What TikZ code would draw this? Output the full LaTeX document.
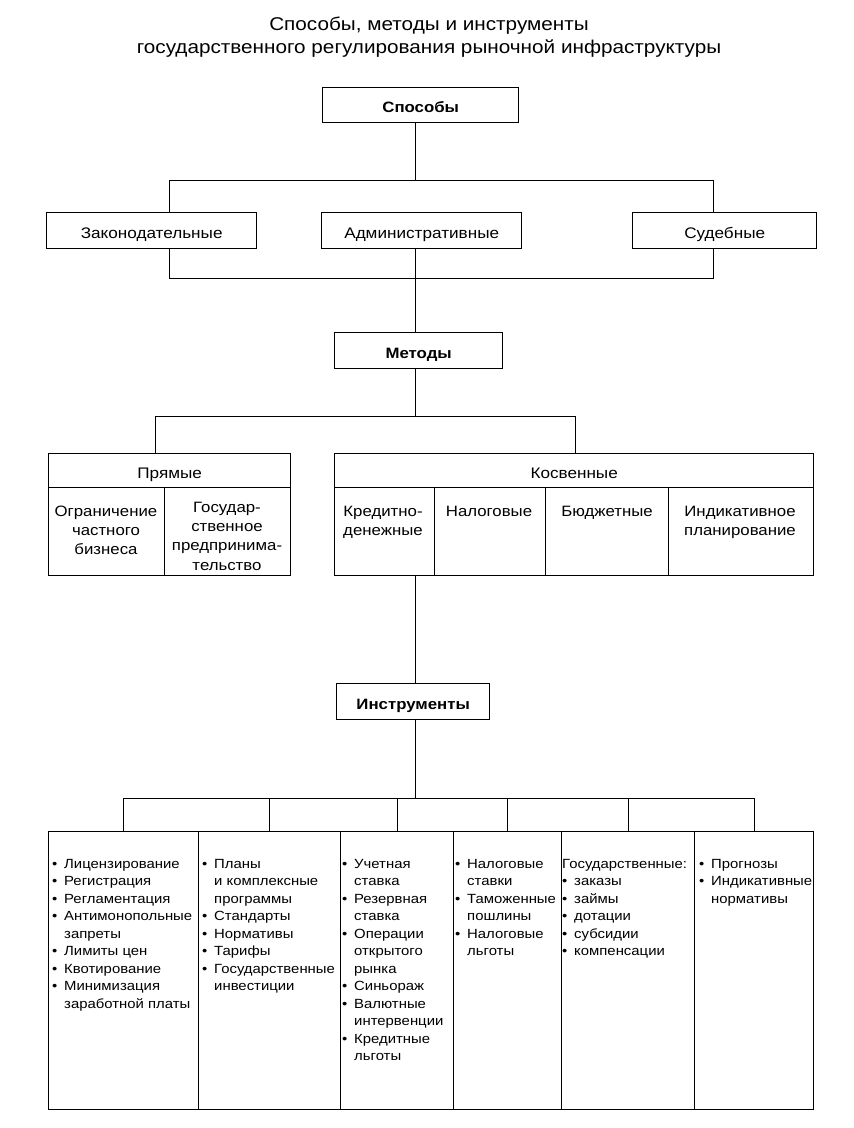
\documentclass[tikz,border=0pt]{standalone}
\usepackage{fontspec}
\setmainfont{Liberation Sans}[FakeStretch=1.12]
\newcommand{\myfs}[2]{\fontsize{#1}{#2}\selectfont}
\newcommand{\mybul}{\makebox[12pt][l]{•}}
\newcommand{\myind}{\hspace*{12pt}}
\newcommand{\mystrut}{\rule{0pt}{10pt}}
\newcommand{\mystrutb}{\rule{0pt}{11pt}}
\begin{document}
\begin{tikzpicture}[x=1pt,y=-1pt,
  box/.style={draw, line width=1.4pt, inner sep=0pt, anchor=north west, text height=15pt, text depth=0pt},
  conn/.style={line width=0.9pt},
  ttl/.style={anchor=base, inner sep=0pt, font=\myfs{18.5}{22}},
  hdr/.style={box, font=\bfseries\myfs{15}{18}},
  lvl/.style={box, font=\myfs{15.3}{18}},
  cell/.style={anchor=north, align=center, inner sep=0pt, font=\myfs{15}{19.3}},
  coltext/.style={anchor=north west, align=left, inner sep=0pt, font=\myfs{13.3}{17.5}}
]
\fill[white] (0,0) rectangle (854,1128);
\useasboundingbox (0,0) rectangle (854,1128);

% title
\node[ttl] (t1) at (429,30) {Способы, методы и инструменты};
\node[ttl] (t2) at (429,53) {государственного регулирования рыночной инфраструктуры};

% Способы
\node[hdr, minimum width=196pt, minimum height=35pt] (sp) at (322,87) {Способы};
\node[lvl, minimum width=210pt, minimum height=36pt] (zak) at (46,212) {Законодательные};
\node[lvl, minimum width=200pt, minimum height=36pt] (adm) at (321,212) {Административные};
\node[lvl, minimum width=184pt, minimum height=36pt] (sud) at (632,212) {Судебные};

\coordinate (ja) at (415,180);
\coordinate (a1) at (169,180);
\coordinate (a2) at (713,180);
\draw[conn] (sp.south -| ja) -- (ja);
\draw[conn] (zak.north -| a1) -- (a1) -- (a2) -- (sud.north -| a2);

% Методы
\node[hdr, minimum width=168pt, minimum height=36pt] (met) at (334,332) {Методы};
\coordinate (b1) at (169,278);
\coordinate (b2) at (713,278);
\draw[conn] (zak.south -| b1) -- (b1) -- (b2) -- (sud.south -| b2);
\draw[conn] (adm.south -| ja) -- (met.north -| ja);

% Прямые / Косвенные
\node[lvl, minimum width=242pt, minimum height=34pt] (pr) at (48,453) {Прямые};
\node[box, minimum width=116pt, minimum height=88pt] (pr1) at (48,487) {};
\node[box, minimum width=126pt, minimum height=88pt] (pr2) at (164,487) {};
\node[lvl, minimum width=479pt, minimum height=34pt] (kos) at (334,453) {Косвенные};
\node[box, minimum width=100pt, minimum height=88pt] (k1) at (334,487) {};
\node[box, minimum width=111pt, minimum height=88pt] (k2) at (434,487) {};
\node[box, minimum width=123pt, minimum height=88pt] (k3) at (545,487) {};
\node[box, minimum width=145pt, minimum height=88pt] (k4) at (668,487) {};

\node[cell] (pr1t) at (106,505) {\mystrutb Ограничение\\частного\\бизнеса};
\node[cell] (pr2t) at (227,501) {\mystrutb Государ-\\ственное\\предпринима-\\тельство};
\node[cell] (k1t) at (383,505) {\mystrutb Кредитно-\\денежные};
\node[cell] (k2t) at (489,505) {\mystrutb Налоговые};
\node[cell] (k3t) at (607,505) {\mystrutb Бюджетные};
\node[cell] (k4t) at (740,505) {\mystrutb Индикативное\\планирование};

\coordinate (jm) at (415,416);
\coordinate (c1) at (155,416);
\coordinate (c2) at (575,416);
\draw[conn] (met.south -| jm) -- (jm);
\draw[conn] (pr.north -| c1) -- (c1) -- (c2) -- (kos.north -| c2);

% Инструменты
\node[hdr, minimum width=153pt, minimum height=36pt] (ins) at (336,683) {Инструменты};
\draw[conn] (k2.south -| ja) -- (ins.north -| ja);

% columns
\node[box, minimum width=150pt, minimum height=278pt] (col1) at (48,831) {};
\node[box, minimum width=142pt, minimum height=278pt] (col2) at (198,831) {};
\node[box, minimum width=113pt, minimum height=278pt] (col3) at (340,831) {};
\node[box, minimum width=108pt, minimum height=278pt] (col4) at (453,831) {};
\node[box, minimum width=133pt, minimum height=278pt] (col5) at (561,831) {};
\node[box, minimum width=119pt, minimum height=278pt] (col6) at (694,831) {};

\coordinate (jd) at (415,798);
\draw[conn] (ins.south -| jd) -- (jd);
\draw[conn] (col1.north) -- (col1.north |- jd) -- (col6.north |- jd) -- (col6.north);
\draw[conn] (col2.north) -- (col2.north |- jd);
\draw[conn] (col3.north) -- (col3.north |- jd);
\draw[conn] (col4.north) -- (col4.north |- jd);
\draw[conn] (col5.north) -- (col5.north |- jd);

\node[coltext] (c1t) at (52,858) {\mystrut\mybul Лицензирование\\\mybul Регистрация\\\mybul Регламентация\\\mybul Антимонопольные\\\myind запреты\\\mybul Лимиты цен\\\mybul Квотирование\\\mybul Минимизация\\\myind заработной платы};
\node[coltext] (c2t) at (202,858) {\mystrut\mybul Планы\\\myind и комплексные\\\myind программы\\\mybul Стандарты\\\mybul Нормативы\\\mybul Тарифы\\\mybul Государственные\\\myind инвестиции};
\node[coltext] (c3t) at (342,858) {\mystrut\mybul Учетная\\\myind ставка\\\mybul Резервная\\\myind ставка\\\mybul Операции\\\myind открытого\\\myind рынка\\\mybul Синьораж\\\mybul Валютные\\\myind интервенции\\\mybul Кредитные\\\myind льготы};
\node[coltext] (c4t) at (455,858) {\mystrut\mybul Налоговые\\\myind ставки\\\mybul Таможенные\\\myind пошлины\\\mybul Налоговые\\\myind льготы};
\node[coltext] (c5t) at (562,858) {\mystrut Государственные:\\\mybul заказы\\\mybul займы\\\mybul дотации\\\mybul субсидии\\\mybul компенсации};
\node[coltext] (c6t) at (699,858) {\mystrut\mybul Прогнозы\\\mybul Индикативные\\\myind нормативы};
\end{tikzpicture}
\end{document}
